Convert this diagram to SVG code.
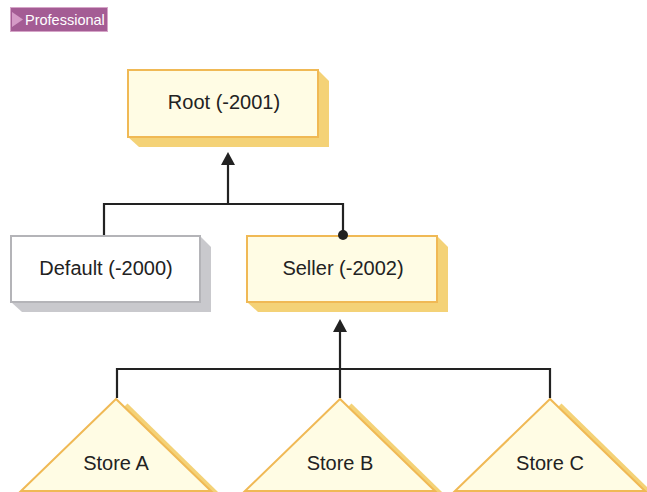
<svg xmlns="http://www.w3.org/2000/svg" width="647" height="492" viewBox="0 0 647 492">
<defs>
<style>
.box{fill:#fffce4;stroke:#f0b955;stroke-width:2}
.shadow{fill:#f4d277}
.gbox{fill:#ffffff;stroke:#b4b4b8;stroke-width:2}
.gshadow{fill:#c9c9cd}
.tri{fill:#fffce4;stroke:#f0b955;stroke-width:2;stroke-linejoin:miter}
.lbl{font-family:"Liberation Sans",Arial,sans-serif;font-size:20px;fill:#222;text-anchor:middle}
.conn{fill:none;stroke:#222;stroke-width:2.2}
.head{fill:#222}
</style>
</defs>
<g id="tag">
<rect x="10.5" y="7.5" width="97" height="24" fill="#a45c94" stroke="#d6a5c8" stroke-width="1"/>
<polygon points="12,12 23,19.5 12,27" fill="#d59ac6"/>
<text x="25" y="25" font-family="Liberation Sans,Arial,sans-serif" font-size="14.5" fill="#ffffff">Professional</text>
</g>
<g id="root">
<polygon class="shadow" points="318,70 329,81 329,147 139,147 128,137"/>
<rect class="box" x="128" y="70" width="190" height="67"/>
<text class="lbl" x="224" y="109">Root (-2001)</text>
</g>
<g id="default">
<polygon class="gshadow" points="200,236 211,247 211,312 22,312 11,302"/>
<rect class="gbox" x="11" y="236" width="189" height="66"/>
<text class="lbl" x="106" y="275">Default (-2000)</text>
</g>
<g id="seller">
<polygon class="shadow" points="437,236 448,247 448,312 258,312 247,302"/>
<rect class="box" x="247" y="236" width="190" height="66"/>
<text class="lbl" x="343" y="275">Seller (-2002)</text>
</g>
<g id="storeA">
<polygon class="shadow" points="124,407 127.5,403.4 218,492 211,492"/>
<polygon class="tri" points="116,399 21,491 211,491"/>
<text class="lbl" x="116" y="470">Store A</text>
</g>
<g id="storeB">
<polygon class="shadow" points="348,407 351.5,403.4 442,492 435,492"/>
<polygon class="tri" points="340,399 245,491 435,491"/>
<text class="lbl" x="340" y="470">Store B</text>
</g>
<g id="storeC">
<polygon class="shadow" points="558,407 561.5,403.4 652,492 645,492"/>
<polygon class="tri" points="550,399 455,491 645,491"/>
<text class="lbl" x="550" y="470">Store C</text>
</g>
<g id="connectors">
<path class="conn" d="M228,164 V204 M104,235 V204 H343 V235"/>
<polygon class="head" points="228,152 221,165 235,165"/>
<circle class="head" cx="343" cy="235" r="5"/>
<path class="conn" d="M340,331 V398 M117,398 V369 H550 V398"/>
<polygon class="head" points="340,319 333,332 347,332"/>
</g>
</svg>
